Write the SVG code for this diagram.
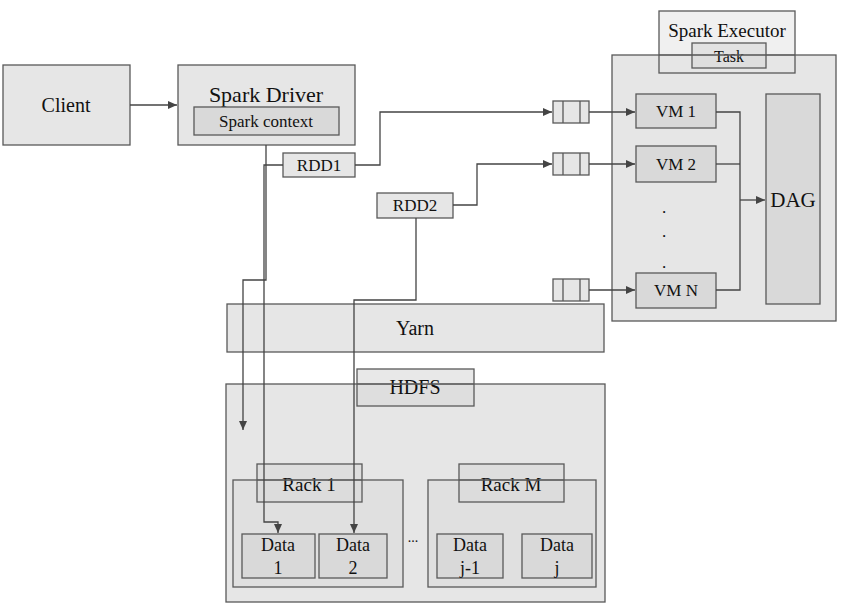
<svg xmlns="http://www.w3.org/2000/svg" width="856" height="606" viewBox="0 0 856 606" font-family="'Liberation Serif', 'DejaVu Serif', serif">
<style>
.o{fill:#e6e6e6;stroke:#595959;stroke-width:1.3}
.i{fill:#d9d9d9;stroke:#595959;stroke-width:1.3}
.e{fill:none;stroke:#595959;stroke-width:1.3}
text{fill:#111;text-anchor:middle;dominant-baseline:central}
.c path{fill:none;stroke:#444;stroke-width:1.3}
</style>
<defs>
<marker id="a" markerWidth="10" markerHeight="8" refX="9" refY="4" orient="auto" markerUnits="userSpaceOnUse">
<path d="M0,0 L9,4 L0,8 Z" fill="#444"/>
</marker>
</defs>
<rect width="856" height="606" fill="#fff"/>

<g id="client"><rect class="o" x="3" y="65" width="127" height="80"/><text x="66" y="105" font-size="20">Client</text></g>
<g id="driver"><rect class="o" x="178" y="65" width="177" height="80"/><text x="266" y="94" font-size="22">Spark Driver</text>
<rect class="i" x="194" y="107" width="145" height="28"/><text x="266" y="121" font-size="17">Spark context</text></g>

<g id="executor-container"><rect class="o" x="612" y="55" width="224" height="266"/></g>
<g id="executor"><rect class="o" x="659" y="11" width="136" height="62" fill-opacity="0.6"/><text x="727" y="30" font-size="19">Spark Executor</text>
<rect class="i" x="692" y="43" width="74" height="25" fill-opacity="0.6"/><text x="729" y="56" font-size="16">Task</text>
<path class="e" d="M659,55 H795"/></g>

<g id="vm1"><rect class="i" x="636" y="94" width="80" height="34"/><text x="676" y="111" font-size="17">VM 1</text></g>
<g id="vm2"><rect class="i" x="636" y="146" width="80" height="36"/><text x="676" y="164" font-size="17">VM 2</text></g>
<g id="dots"><text x="664" y="207" font-size="17">.</text><text x="664" y="231" font-size="17">.</text><text x="664" y="262" font-size="17">.</text></g>
<g id="vmn"><rect class="i" x="636" y="273" width="80" height="35"/><text x="676" y="290" font-size="17">VM N</text></g>
<g id="dag"><rect class="i" x="766" y="94" width="54" height="210"/><text x="793" y="200" font-size="21">DAG</text></g>

<g id="q1"><rect class="o" x="553" y="101" width="36" height="22"/><path class="e" d="M563,101V123M580,101V123"/></g>
<g id="q2"><rect class="o" x="553" y="153" width="36" height="22"/><path class="e" d="M563,153V175M580,153V175"/></g>
<g id="qn"><rect class="o" x="553" y="279" width="36" height="22"/><path class="e" d="M563,279V301M580,279V301"/></g>

<g id="rdd1"><rect class="o" x="283" y="153" width="72" height="24"/><text x="319" y="165" font-size="17">RDD1</text></g>
<g id="rdd2"><rect class="o" x="377" y="193" width="76" height="25"/><text x="415" y="205" font-size="17">RDD2</text></g>

<g id="yarn"><rect class="o" x="227" y="304" width="377" height="48"/><text x="415" y="328" font-size="20">Yarn</text></g>

<g id="hdfs"><rect class="o" x="226" y="384" width="379" height="218"/>
<rect class="i" x="357" y="369" width="117" height="37" fill-opacity="0.6"/><text x="415" y="387" font-size="20">HDFS</text>
<path class="e" d="M357,384H474"/></g>

<g id="rack1"><rect class="i" x="233" y="480" width="170" height="107" fill-opacity="0.5"/>
<rect class="i" x="257" y="464" width="105" height="38" fill-opacity="0.6"/><text x="309" y="484" font-size="19">Rack 1</text>
<path class="e" d="M257,480H362"/></g>
<g id="rackm"><rect class="i" x="428" y="480" width="168" height="107" fill-opacity="0.5"/>
<rect class="i" x="459" y="464" width="105" height="38" fill-opacity="0.6"/><text x="511" y="484" font-size="19">Rack M</text>
<path class="e" d="M459,480H564"/></g>

<g id="data1"><rect class="i" x="242" y="534" width="73" height="44"/><text x="278" y="545" font-size="18">Data</text><text x="278" y="568" font-size="18">1</text></g>
<g id="data2"><rect class="i" x="319" y="534" width="68" height="44"/><text x="353" y="545" font-size="18">Data</text><text x="353" y="568" font-size="18">2</text></g>
<g id="ellipsis"><text x="413" y="537" font-size="14">...</text></g>
<g id="dataj1"><rect class="i" x="437" y="534" width="66" height="44"/><text x="470" y="545" font-size="18">Data</text><text x="470" y="568" font-size="18">j-1</text></g>
<g id="dataj"><rect class="i" x="522" y="534" width="70" height="44"/><text x="557" y="545" font-size="18">Data</text><text x="557" y="568" font-size="18">j</text></g>

<g id="connectors" class="c">
<path d="M130,105H177" marker-end="url(#a)"/>
<path d="M266,145V280H243V430" marker-end="url(#a)"/>
<path d="M283,165H264V522H278V533" marker-end="url(#a)"/>
<path d="M355,165H380V112H552" marker-end="url(#a)"/>
<path d="M453,205H477V164H552" marker-end="url(#a)"/>
<path d="M416,218V300H354V533" marker-end="url(#a)"/>
<path d="M589,112H635" marker-end="url(#a)"/>
<path d="M589,164H635" marker-end="url(#a)"/>
<path d="M589,290H635" marker-end="url(#a)"/>
<path d="M716,112H740V290H716"/>
<path d="M716,164H740"/>
<path d="M740,200H765" marker-end="url(#a)"/>
</g>
</svg>
